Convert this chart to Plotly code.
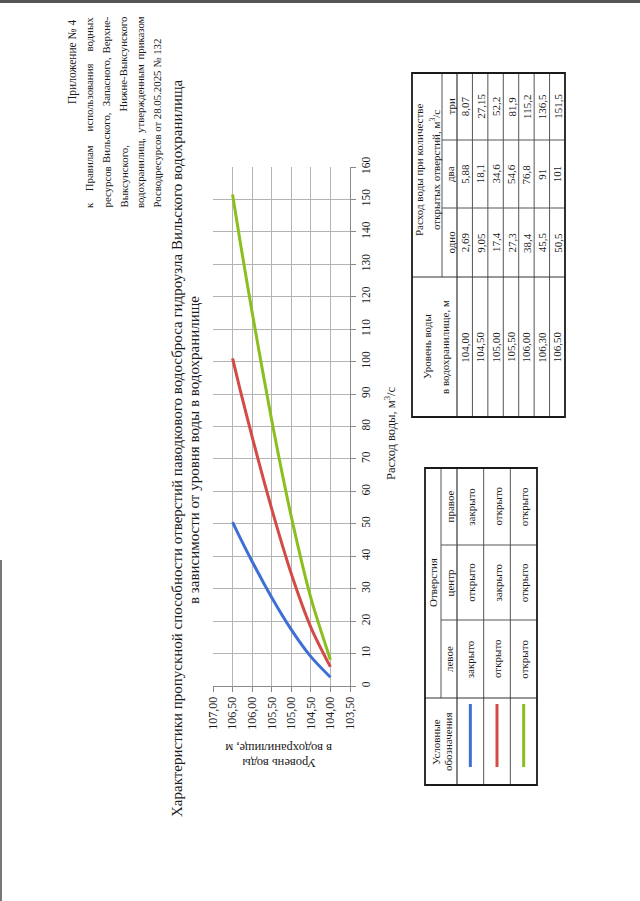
import plotly.graph_objects as go

W, H = 640, 901
FONT = "Liberation Serif"

# ---------------- data ----------------
levels = [104.00, 104.50, 105.00, 105.50, 106.00, 106.30, 106.50]
flow_one = [2.69, 9.05, 17.4, 27.3, 38.4, 45.5, 50.5]
flow_two = [5.88, 18.1, 34.6, 54.6, 76.8, 91, 101]
flow_three = [8.07, 27.15, 52.2, 81.9, 115.2, 136.5, 151.5]

level_labels = ["104,00", "104,50", "105,00", "105,50", "106,00", "106,30", "106,50"]
flow_one_labels = ["2,69", "9,05", "17,4", "27,3", "38,4", "45,5", "50,5"]
flow_two_labels = ["5,88", "18,1", "34,6", "54,6", "76,8", "91", "101"]
flow_three_labels = ["8,07", "27,15", "52,2", "81,9", "115,2", "136,5", "151,5"]

gate_left = ["закрыто", "открыто", "открыто"]
gate_center = ["открыто", "закрыто", "открыто"]
gate_right = ["закрыто", "открыто", "открыто"]

series = [flow_one, flow_two, flow_three]
series_names = ["одно", "два", "три"]
colors = ["#3d6fd4", "#d24b47", "#8abf1f"]

# ---------------- helpers ----------------
def px(x):
    return x / W

def py(y):
    return 1 - y / H

shapes = []
annotations = []

def line(x0, y0, x1, y1, color="#333333", width=1):
    shapes.append(dict(type="line", xref="paper", yref="paper",
                       x0=px(x0), y0=py(y0), x1=px(x1), y1=py(y1),
                       line=dict(color=color, width=width), layer="above"))

def txt(x, y, s, size=13, angle=-90, xa="center", ya="middle", color="#1a1a1a"):
    annotations.append(dict(x=px(x), y=py(y), xref="paper", yref="paper", text=s,
                            showarrow=False, textangle=angle, xanchor=xa, yanchor=ya,
                            font=dict(family=FONT, size=size, color=color)))

CW = {"а": .444, "б": .5, "в": .472, "г": .41, "д": .49, "е": .444, "ж": .7, "з": .4,
      "и": .535, "й": .535, "к": .48, "л": .5, "м": .63, "н": .535, "о": .5, "п": .535,
      "р": .5, "с": .444, "т": .45, "у": .5, "ф": .65, "х": .5, "ц": .535, "ч": .5,
      "ш": .78, "щ": .78, "ъ": .52, "ы": .7, "ь": .45, "э": .44, "ю": .75, "я": .48,
      "П": .72, "Н": .72, "З": .52, "Р": .556, "В": .667, " ": .25, ",": .25, ".": .25,
      "-": .333, "№": .96}

def word_w(w, size):
    return sum(CW.get(c, 0.5 if c.isdigit() else 0.6) for c in w) * size

def justified(words, x, y_start, y_end, size):
    widths = [word_w(w, size) for w in words]
    gap = max((y_start - y_end - sum(widths)) / (len(words) - 1), 0.25 * size)
    cur = y_start
    n = len(words)
    for i, (w, wd) in enumerate(zip(words, widths)):
        if i == 0:
            txt(x, y_start, w, size, ya="bottom")
        elif i == n - 1:
            txt(x, y_end, w, size, ya="top")
        else:
            txt(x, cur - wd / 2, w, size)
        cur -= wd + gap

# ---------------- figure ----------------
fig = go.Figure()
for vals, name, c in zip(series, series_names, colors):
    fig.add_trace(go.Scatter(x=levels, y=vals, mode="lines", name=name,
                             line=dict(color=c, width=3, shape="spline", smoothing=0.8),
                             showlegend=False))

# plot geometry (pixels)
X_LEFT, X_RIGHT = 213, 350
Y_TOP, Y_BOT = 167, 686

fig.update_layout(
    width=W, height=H,
    margin=dict(l=0, r=0, t=0, b=0, autoexpand=False),
    paper_bgcolor="white", plot_bgcolor="white",
    separators=", ",
    xaxis=dict(domain=[px(X_LEFT), px(X_RIGHT)], range=[107, 103.5], dtick=0.5,
               tick0=103.5, tickformat=".2f", tickangle=-90, showgrid=True,
               gridcolor="#b4b4b4", gridwidth=1, zeroline=False, showline=True,
               linecolor="#8a8a8a", linewidth=1, ticks="outside", ticklen=5,
               tickcolor="#8a8a8a", automargin=False,
               tickfont=dict(family=FONT, size=12, color="#1a1a1a")),
    yaxis=dict(domain=[py(Y_BOT), py(Y_TOP)], range=[0, 160], dtick=10, side="right",
               tickangle=-90, showgrid=True, gridcolor="#b4b4b4", gridwidth=1,
               zeroline=False, showline=True, linecolor="#8a8a8a", linewidth=1,
               ticks="outside", ticklen=5, tickcolor="#8a8a8a", automargin=False,
               tickfont=dict(family=FONT, size=11.5, color="#1a1a1a")),
)

# axis titles
txt(390, 433, "Расход воды, м<sup>3</sup>/с", 12.5)
txt(279, 763, "Уровень воды", 12.5, angle=180)
txt(279, 748, "в водохранилище, м", 12.5, angle=180)

# chart title
txt(177, 448, "Характеристики пропускной способности отверстий паводкового водосброса "
    "гидроузла Вильского водохранилища", 15)
txt(194, 450, "в зависимости от уровня воды в водохранилище", 15)

# header block
HS = 10.8
HY0, HY1 = 210, 15
txt(72, 18, "Приложение № 4", 11.5, ya="top")
justified(["к", "Правилам", "использования", "водных"], 89, HY0, HY1, HS)
justified(["ресурсов", "Вильского,", "Запасного,", "Верхне-"], 106, HY0, HY1, HS)
justified(["Выксунского,", "Нижне-Выксунского"], 123, HY0, HY1, HS)
justified(["водохранилищ,", "утвержденным", "приказом"], 140, HY0, HY1, HS)
txt(156, HY0, "Росводресурсов от 28.05.2025 № 132", HS, ya="bottom")

# ---------------- data table ----------------
TS = 11
TX0, TX1 = 412, 565
TY0, TY1 = 73, 417
T_SPLIT = 277
T_HDR = 457
T_SUB = 442
col_bounds = [277, 208, 140, 73]
row_h = (TX1 - T_HDR) / len(levels)

for k in range(1, len(levels)):
    xx = T_HDR + k * row_h
    line(xx, TY0, xx, TY1, "#555555", 1)
line(T_HDR, TY0, T_HDR, TY1, "#333333", 1.2)
line(T_SUB, TY0, T_SUB, T_SPLIT, "#555555", 1)
line(TX0, T_SPLIT, TX1, T_SPLIT, "#333333", 1)
for cb in col_bounds[1:3]:
    line(T_SUB, cb, TX1, cb, "#555555", 1)
shapes.append(dict(type="rect", xref="paper", yref="paper", x0=px(TX0), x1=px(TX1),
                   y0=py(TY1), y1=py(TY0), line=dict(color="#1a1a1a", width=1.8)))

txt(427, 347, "Уровень воды", TS)
txt(445, 347, "в водохранилище, м", TS)
txt(419, 170, "Расход воды при количестве", TS)
txt(435, 170, "открытых отверстий, м<sup>3</sup>/с", TS)
col_centers = [(col_bounds[i] + col_bounds[i + 1]) / 2 for i in range(3)]
for name, cc in zip(series_names, col_centers):
    txt(450, cc, name, TS)
for i, lab in enumerate(level_labels):
    xc = T_HDR + (i + 0.5) * row_h
    txt(xc, 347, lab, TS)
    for labs, cc in zip([flow_one_labels, flow_two_labels, flow_three_labels], col_centers):
        txt(xc, cc, labs[i], TS)

# ---------------- legend table ----------------
LX0, LX1 = 425, 537
LY0, LY1 = 468, 785
L_SPLIT = 698
L_SUB = 441
L_HDR = 457
lrow_h = (LX1 - L_HDR) / 3
lcols = [698, 620, 545, 468]

line(L_HDR, LY0, L_HDR, LY1, "#333333", 1.2)
for k in range(1, 3):
    xx = L_HDR + k * lrow_h
    line(xx, LY0, xx, LY1, "#555555", 1)
line(L_SUB, LY0, L_SUB, L_SPLIT, "#555555", 1)
line(LX0, L_SPLIT, LX1, L_SPLIT, "#333333", 1)
for cb in lcols[1:3]:
    line(L_SUB, cb, LX1, cb, "#555555", 1)
shapes.append(dict(type="rect", xref="paper", yref="paper", x0=px(LX0), x1=px(LX1),
                   y0=py(LY1), y1=py(LY0), line=dict(color="#1a1a1a", width=1.8)))

txt(436, 742, "Условные", TS)
txt(448, 742, "обозначения", TS)
txt(433, (lcols[0] + lcols[3]) / 2, "Отверстия", TS)
lcenters = [(lcols[i] + lcols[i + 1]) / 2 for i in range(3)]
for name, cc in zip(["левое", "центр", "правое"], lcenters):
    txt(449, cc, name, TS)
for r in range(3):
    xc = L_HDR + (r + 0.5) * lrow_h
    line(xc, 704, xc, 767, colors[r], 3)
    for vals, cc in zip([gate_left, gate_center, gate_right], lcenters):
        txt(xc, cc, vals[r], TS)

# scan edge artifacts
shapes.append(dict(type="rect", xref="paper", yref="paper", x0=0, x1=1,
                   y0=py(3), y1=1, line=dict(width=0), fillcolor="#555555", layer="below"))
shapes.append(dict(type="rect", xref="paper", yref="paper", x0=0, x1=px(2),
                   y0=0, y1=py(560), line=dict(width=0), fillcolor="#777777", layer="below"))

fig.update_layout(shapes=shapes, annotations=annotations)
fig.write_html("out.html", config={"displayModeBar": False},
               post_script="document.body.style.margin='0px';document.body.style.padding='0px';")
